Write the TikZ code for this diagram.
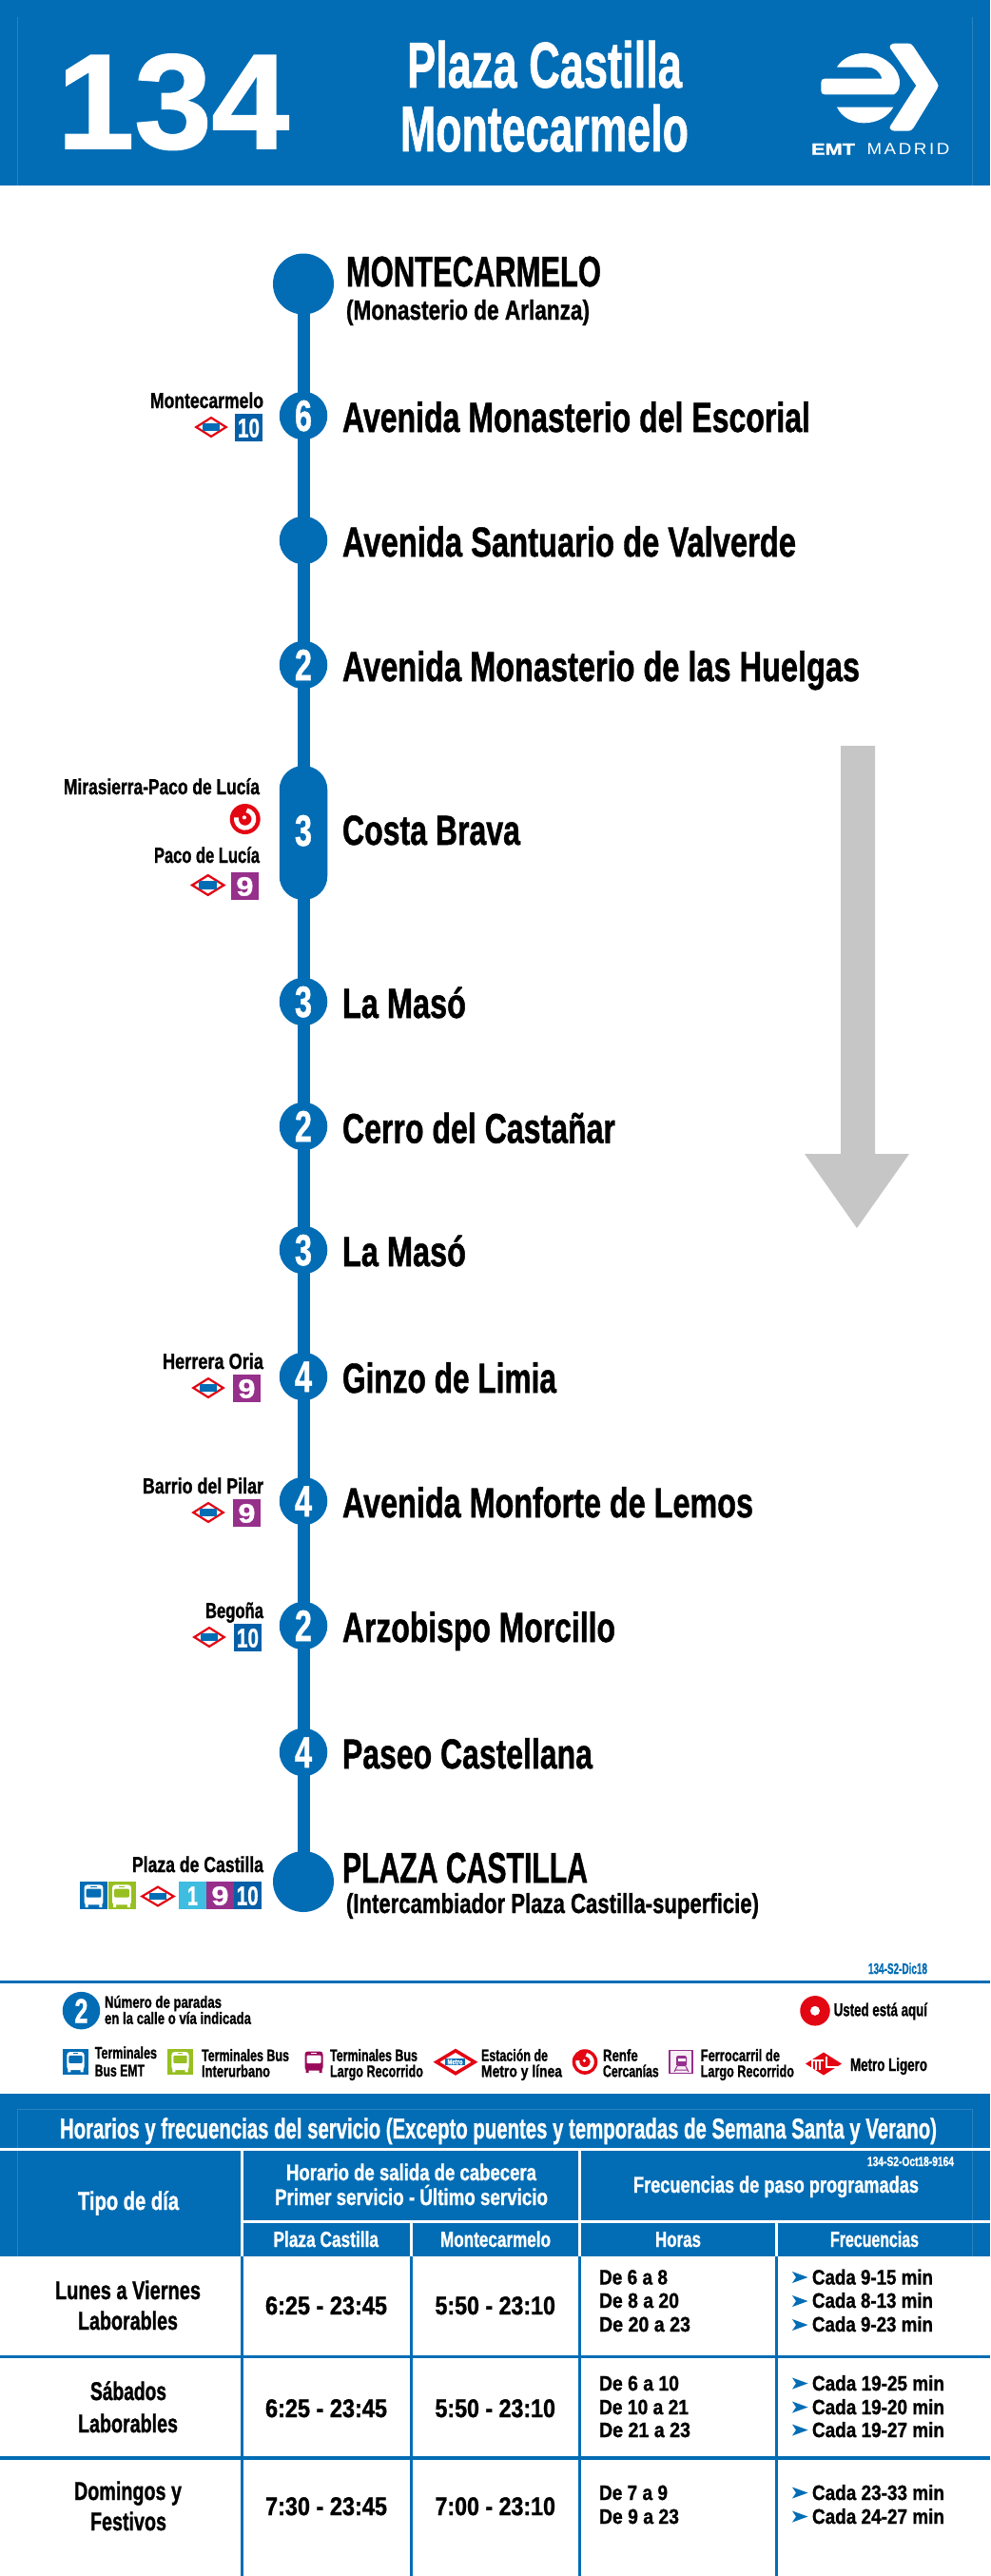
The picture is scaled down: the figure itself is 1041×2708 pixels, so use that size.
\documentclass[tikz,border=0pt]{standalone}
\usepackage{fontspec}
\usepackage{graphicx}
\usetikzlibrary{shapes.geometric}
\setmainfont{Liberation Sans}[BoldFeatures={FakeBold=1.2}]
\newfontfamily\logolight[LetterSpace=14]{Liberation Sans}
\definecolor{emt}{HTML}{026DB5}
\definecolor{emtdark}{HTML}{0560A8}
\definecolor{emtline}{HTML}{2A83C0}
\definecolor{metrored}{HTML}{E30613}
\definecolor{linenine}{HTML}{96308B}
\definecolor{lineone}{HTML}{3FBDE0}
\definecolor{interbus}{HTML}{97BF21}
\definecolor{longbus}{HTML}{9B0A5A}
\definecolor{arrowgrey}{HTML}{C6C6C6}
\newcounter{tn}
\tikzset{
  x=1pt,y=-1pt,
  txt/.style={inner sep=0pt,outer sep=0pt},
  stopdot/.style={circle,fill=emt,minimum size=50.5pt,inner sep=0pt,outer sep=0pt},
  enddot/.style={circle,fill=emt,minimum size=64pt,inner sep=0pt,outer sep=0pt},
  pilldot/.style={rectangle,rounded corners=25pt,fill=emt,minimum width=50.5pt,minimum height=141pt,inner sep=0pt,outer sep=0pt},
  routeline/.style={draw=emt,line width=13pt},
  tblblue/.style={draw=emt,line width=3pt},
  tblwhite/.style={draw=white,line width=3pt},
  faint/.style={draw=emtline,line width=0.6pt},
}
% [colour]{anchor}{x}{y}{width}{size}{text}
\newcommand\labx[7][black]{\stepcounter{tn}\node[txt,text=#1,anchor=#2] (t\arabic{tn}) at (#3,#4)
  {\fontsize{#6}{#6}\selectfont\bfseries\resizebox{#5pt}{\height}{#7}};}
% centre x, centre y, half width, half height
\newcommand\metroicon[4]{%
  \stepcounter{tn}
  \node[txt,diamond,draw=metrored,fill=white,line width=#4*0.2pt,minimum width=#3*1.85pt,minimum height=#4*1.8pt,aspect=1.5] (t\arabic{tn}) at (#1,#2) {};
  \stepcounter{tn}
  \node[txt,rectangle,fill=emt,minimum width=#3*1.05pt,minimum height=#4*0.72pt] (t\arabic{tn}) at (#1,#2) {};
}
% x0, y0, size, colour, text, width, font
\newcommand\badge[7]{%
  \stepcounter{tn}
  \node[txt,rectangle,fill=#4,minimum size=#3pt,anchor=north west] (t\arabic{tn}) at (#1,#2) {};
  \labx[white]{base}{#1+#3/2}{#2+#3/2+#7*0.36}{#6}{#7}{#5}
}
% cx, cy, radius
\newcommand\renfeicon[3]{%
  \begin{scope}[shift={(#1,#2)}]
    \stepcounter{tn}\node[txt,circle,fill=metrored,minimum size=#3*2pt] (t\arabic{tn}) at (0,0) {};
    \draw[white,line width=#3*0.3pt] (-80:#3*0.58) arc[start angle=-80,end angle=190,radius=#3*0.58];
    \fill[white] (#3*-0.05,#3*-0.1) circle[radius=#3*0.13];
  \end{scope}
}
% cx, cy, scale, body, window
\newcommand\busicon[5]{%
  \begin{scope}[shift={(#1,#2)},scale=#3]
    \fill[#4,rounded corners=3pt] (-9.5,-11) rectangle (9.5,9);
    \fill[#4] (-8.5,8) rectangle (-5.5,11.5) (5.5,8) rectangle (8.5,11.5);
    \fill[#5,rounded corners=1pt] (-7.5,-7) rectangle (7.5,1.5);
    \fill[#5] (-3,-9.6) rectangle (3,-8.8);
  \end{scope}
}
\newcommand\arr[2]{\fill[emt] (#1,#2-6) -- (#1+16.5,#2) -- (#1,#2+6) -- (#1+4,#2) -- cycle;}
\begin{document}
\begin{tikzpicture}
\useasboundingbox (0,0) rectangle (1041,2708);
\fill[white] (0,0) rectangle (1041,2708);
% ---------- header
\fill[emt] (0,0) rectangle (1041,195);
\draw[faint] (18.5,18) -- (18.5,195) (1022.5,18) -- (1022.5,195);
\labx[white]{base west}{60}{156}{244}{142}{134}
\labx[white]{base west}{428}{92}{289}{68}{Plaza Castilla}
\labx[white]{base west}{421}{159}{303}{68}{Montecarmelo}
\begin{scope}[shift={(840,30)},x=0.3333pt,y=-0.3333pt]
  \fill[white] (288,62) .. controls (284,55) and (292,47) .. (302,47) -- (345,47) .. controls (352,47) and (357,50) .. (361,56) -- (436,170) .. controls (441,177) and (441,184) .. (436,191) -- (361,314) .. controls (357,320) and (352,323) .. (345,323) -- (302,323) .. controls (292,323) and (284,315) .. (288,308) -- (370,180) -- cycle;
  \fill[white] (120,122) .. controls (135,95) and (170,78) .. (205,78) .. controls (265,78) and (318,125) .. (318,170) .. controls (318,190) and (312,200) .. (300,208) -- (82,208) .. controls (74,208) and (70,204) .. (70,196) -- (70,170) .. controls (70,162) and (74,158) .. (82,158) -- (262,158) .. controls (255,135) and (240,122) .. (215,122) -- cycle;
  \fill[white] (120,248) -- (298,248) .. controls (280,280) and (245,298) .. (205,298) .. controls (170,298) and (135,280) .. (120,248) -- cycle;
\end{scope}
\labx[white]{base west}{853}{162.7}{46}{17}{EMT}
\stepcounter{tn}\node[txt,text=white,anchor=base west] (t\arabic{tn}) at (911.5,162.7) {\fontsize{17}{17}\selectfont\logolight\resizebox{87pt}{\height}{MADRID}};
% ---------- route
\node[enddot] (s0) at (319,298.5) {};
\node[stopdot] (s1) at (319,437) {};
\node[stopdot] (s2) at (319,568) {};
\node[stopdot] (s3) at (319,699) {};
\node[pilldot] (s4) at (319,875.5) {};
\node[stopdot] (s5) at (319,1053) {};
\node[stopdot] (s6) at (319,1184) {};
\node[stopdot] (s7) at (319,1314) {};
\node[stopdot] (s8) at (319,1447) {};
\node[stopdot] (s9) at (319,1578) {};
\node[stopdot] (s10) at (319,1709) {};
\node[stopdot] (s11) at (319,1842) {};
\node[enddot] (s12) at (319,1978) {};
\foreach \a/\b in {0/1,1/2,2/3,3/4,4/5,5/6,6/7,7/8,8/9,9/10,10/11,11/12}
  \draw[routeline] (s\a.center) -- (s\b.center);
\foreach \y/\d in {437/6,699/2,873/3,1053/3,1184/2,1314/3,1447/4,1578/4,1709/2,1842/4}{
  \labx[white]{base}{319}{\y+16}{18}{46}{\d}
}
% arrow
\fill[arrowgrey] (884,784) -- (920,784) -- (920,1213) -- (956,1213) -- (901,1291) -- (846,1213) -- (884,1213) -- cycle;
% stop names
\labx{base west}{364}{301}{268}{45}{MONTECARMELO}
\labx{base west}{364}{336}{256}{29}{(Monasterio de Arlanza)}
\labx{base west}{360}{454}{492}{44}{Avenida Monasterio del Escorial}
\labx{base west}{360}{585}{477}{44}{Avenida Santuario de Valverde}
\labx{base west}{360}{716}{544}{44}{Avenida Monasterio de las Huelgas}
\labx{base west}{360}{888}{187}{44}{Costa Brava}
\labx{base west}{360}{1070}{130}{44}{La Masó}
\labx{base west}{360}{1201.5}{287}{44}{Cerro del Castañar}
\labx{base west}{360}{1331}{130}{44}{La Masó}
\labx{base west}{360}{1464}{225}{44}{Ginzo de Limia}
\labx{base west}{360}{1595}{432}{44}{Avenida Monforte de Lemos}
\labx{base west}{360}{1726}{287}{44}{Arzobispo Morcillo}
\labx{base west}{360}{1859}{263}{44}{Paseo Castellana}
\labx{base west}{360}{1979}{258}{45}{PLAZA CASTILLA}
\labx{base west}{364}{2011}{434}{29}{(Intercambiador Plaza Castilla-superficie)}
% connections
\labx{base east}{277}{429}{119}{23}{Montecarmelo}
\metroicon{222}{449}{17}{11}
\badge{247}{435}{29}{emtdark}{10}{23}{28}
\labx{base east}{273}{835}{206}{23}{Mirasierra-Paco de Lucía}
\renfeicon{257.7}{861}{16}
\labx{base east}{273}{907}{111}{23}{Paco de Lucía}
\metroicon{218.7}{930.5}{18}{11.5}
\badge{243}{917}{29}{linenine}{9}{18}{28}
\labx{base east}{277}{1439}{106}{23}{Herrera Oria}
\metroicon{219}{1459}{17}{11}
\badge{245}{1445}{29}{linenine}{9}{18}{28}
\labx{base east}{277}{1570}{127}{23}{Barrio del Pilar}
\metroicon{219}{1590}{17}{11}
\badge{245}{1576}{29}{linenine}{9}{18}{28}
\labx{base east}{277}{1701}{61}{23}{Begoña}
\metroicon{220}{1721}{17}{11}
\badge{246}{1707}{29}{emtdark}{10}{23}{28}
\labx{base east}{277}{1968}{138}{23}{Plaza de Castilla}
\stepcounter{tn}\node[txt,rectangle,fill=emt,minimum size=29pt,anchor=north west] (t\arabic{tn}) at (84,1978) {};
\busicon{98.5}{1993}{1.05}{white}{emt}
\stepcounter{tn}\node[txt,rectangle,fill=interbus,minimum size=29pt,anchor=north west] (t\arabic{tn}) at (113.7,1978) {};
\busicon{128}{1993}{1.05}{white}{interbus}
\metroicon{166}{1993.5}{18}{11}
\badge{188}{1978}{29}{lineone}{1}{11}{28}
\badge{217}{1978}{29}{linenine}{9}{18}{28}
\badge{245.7}{1978}{29}{emtdark}{10}{23}{28}
% ---------- legend
\labx[emt]{base west}{913}{2075}{62}{16}{134-S2-Dic18}
\draw[emt,line width=3.5pt] (0,2083.7) -- (1041,2083.7);
\stepcounter{tn}\node[txt,circle,fill=emt,minimum size=39.5pt] (t\arabic{tn}) at (85.5,2113.6) {};
\labx[white]{base}{85.5}{2126.5}{14}{36}{2}
\labx{base west}{110}{2110.7}{123}{17.5}{Número de paradas}
\labx{base west}{110}{2127.7}{154}{17.5}{en la calle o vía indicada}
\stepcounter{tn}\node[txt,circle,fill=metrored,minimum size=31.5pt] (t\arabic{tn}) at (857,2113.8) {};
\stepcounter{tn}\node[txt,circle,fill=white,minimum size=10pt] (t\arabic{tn}) at (857,2113.8) {};
\labx{base west}{876.7}{2119.3}{98.3}{19}{Usted está aquí}
\stepcounter{tn}\node[txt,rectangle,fill=emt,minimum size=27pt,anchor=north west] (t\arabic{tn}) at (66,2154) {};
\busicon{79.5}{2167.5}{0.95}{white}{emt}
\labx{base west}{99.7}{2164}{65.3}{17.5}{Terminales}
\labx{base west}{99.7}{2182.7}{52.3}{17.5}{Bus EMT}
\stepcounter{tn}\node[txt,rectangle,fill=interbus,minimum size=27pt,anchor=north west] (t\arabic{tn}) at (176,2154) {};
\busicon{189.5}{2167.5}{0.95}{white}{interbus}
\labx{base west}{212}{2166.7}{92}{17.5}{Terminales Bus}
\labx{base west}{212}{2183.3}{72}{17.5}{Interurbano}
\busicon{330}{2167.5}{1}{longbus}{white}
\labx{base west}{347}{2166.7}{92}{17.5}{Terminales Bus}
\labx{base west}{347}{2183.3}{98}{17.5}{Largo Recorrido}
\stepcounter{tn}\node[txt,diamond,draw=metrored,fill=white,line width=3.5pt,minimum width=40pt,minimum height=24pt,aspect=1.6] (t\arabic{tn}) at (479,2167.7) {};
\stepcounter{tn}\node[txt,rectangle,fill=emt,minimum width=21pt,minimum height=7.5pt] (mtxt) at (478.5,2167.5) {};
\labx[white]{base}{478.5}{2170.3}{16}{8}{Metro}
\labx{base west}{506}{2166.7}{70}{17.5}{Estación de}
\labx{base west}{506}{2183.3}{85}{17.5}{Metro y línea}
\renfeicon{615}{2167.5}{13.3}
\labx{base west}{634}{2166.7}{36.7}{17.5}{Renfe}
\labx{base west}{634}{2183.3}{58.7}{17.5}{Cercanías}
\stepcounter{tn}\node[txt,rectangle,draw=linenine,line width=1.5pt,fill=linenine!8,minimum size=24pt,anchor=north west] (t\arabic{tn}) at (704,2155.5) {};
\fill[linenine,rounded corners=1.5pt] (711,2161) rectangle (722,2172);
\fill[white] (712.5,2163.5) rectangle (720.5,2167);
\draw[linenine,line width=1pt] (712,2172) -- (709,2178) (721,2172) -- (724,2178) (710,2176) -- (723,2176);
\labx{base west}{736.7}{2166.7}{83.3}{17.5}{Ferrocarril de}
\labx{base west}{736.7}{2183.3}{98.3}{17.5}{Largo Recorrido}
\fill[metrored] (866,2157.5) -- (885,2169.5) -- (866,2181.5) -- (847,2169.5) -- cycle;
\draw[white,line width=1.6pt] (854,2176) -- (854,2166) -- (866,2166) (858,2166) -- (858,2176) (862,2166) -- (862,2176) (869,2162) -- (869,2173) -- (881,2173);
\labx{base west}{894}{2177}{81}{19}{Metro Ligero}
% ---------- table
\fill[emt] (0,2201) rectangle (1041,2372);
\draw[faint] (18.5,2217) -- (18.5,2372) (1022.5,2217) -- (1022.5,2372) (18.5,2217) -- (1022.5,2217);
\draw[tblwhite,line width=3.5pt] (0,2259.5) -- (1041,2259.5);
\draw[tblwhite] (254,2261) -- (254,2372) (609,2261) -- (609,2372);
\draw[tblwhite] (254,2335.5) -- (1041,2335.5);
\draw[tblwhite] (432,2337) -- (432,2372) (816,2337) -- (816,2372);
\draw[tblblue] (254,2372) -- (254,2708) (432,2372) -- (432,2708) (609,2372) -- (609,2708) (816,2372) -- (816,2708);
\draw[tblblue,line width=3.5pt] (0,2477.5) -- (1041,2477.5) (0,2584) -- (1041,2584);
\labx[white]{base west}{63}{2248}{922}{30}{Horarios y frecuencias del servicio (Excepto puentes y temporadas de Semana Santa y Verano)}
\labx[white]{base west}{82}{2323}{106}{27}{Tipo de día}
\labx[white]{base west}{301}{2292}{263}{24}{Horario de salida de cabecera}
\labx[white]{base west}{289}{2318}{287}{24}{Primer servicio - Último servicio}
\labx[white]{base west}{912}{2277}{91}{14}{134-S2-Oct18-9164}
\labx[white]{base west}{666}{2305}{300}{24}{Frecuencias de paso programadas}
\labx[white]{base west}{287.5}{2362}{110.5}{23}{Plaza Castilla}
\labx[white]{base west}{463}{2362}{116}{23}{Montecarmelo}
\labx[white]{base west}{689}{2362}{48}{23}{Horas}
\labx[white]{base west}{873}{2362}{93}{23}{Frecuencias}
% row 1
\labx{base west}{58}{2417}{153}{27}{Lunes a Viernes}
\labx{base west}{82}{2449}{105}{27}{Laborables}
\labx{base west}{279}{2433}{128}{27}{6:25 - 23:45}
\labx{base west}{457.5}{2433}{126.5}{27}{5:50 - 23:10}
\labx{base west}{630}{2401.5}{72}{22}{De 6 a 8}
\labx{base west}{630}{2426}{84}{22}{De 8 a 20}
\labx{base west}{630}{2451}{96}{22}{De 20 a 23}
\arr{833}{2394}\arr{833}{2419}\arr{833}{2444}
\labx{base west}{854}{2401.5}{127}{22}{Cada 9-15 min}
\labx{base west}{854}{2426}{127}{22}{Cada 8-13 min}
\labx{base west}{854}{2451}{127}{22}{Cada 9-23 min}
% row 2
\labx{base west}{95}{2523}{80}{27}{Sábados}
\labx{base west}{82}{2557}{105}{27}{Laborables}
\labx{base west}{279}{2541}{128}{27}{6:25 - 23:45}
\labx{base west}{457.5}{2541}{126.5}{27}{5:50 - 23:10}
\labx{base west}{630}{2513}{84}{22}{De 6 a 10}
\labx{base west}{630}{2538}{94}{22}{De 10 a 21}
\labx{base west}{630}{2562}{96}{22}{De 21 a 23}
\arr{833}{2505.5}\arr{833}{2530.5}\arr{833}{2554.5}
\labx{base west}{854}{2513}{139}{22}{Cada 19-25 min}
\labx{base west}{854}{2538}{139}{22}{Cada 19-20 min}
\labx{base west}{854}{2562}{139}{22}{Cada 19-27 min}
% row 3
\labx{base west}{78}{2628}{113}{27}{Domingos y}
\labx{base west}{95}{2660}{80}{27}{Festivos}
\labx{base west}{279}{2644}{128}{27}{7:30 - 23:45}
\labx{base west}{457.5}{2644}{126.5}{27}{7:00 - 23:10}
\labx{base west}{630}{2628}{72}{22}{De 7 a 9}
\labx{base west}{630}{2653}{84}{22}{De 9 a 23}
\arr{833}{2620.5}\arr{833}{2645.5}
\labx{base west}{854}{2628}{139}{22}{Cada 23-33 min}
\labx{base west}{854}{2653}{139}{22}{Cada 24-27 min}
\end{tikzpicture}
\end{document}
